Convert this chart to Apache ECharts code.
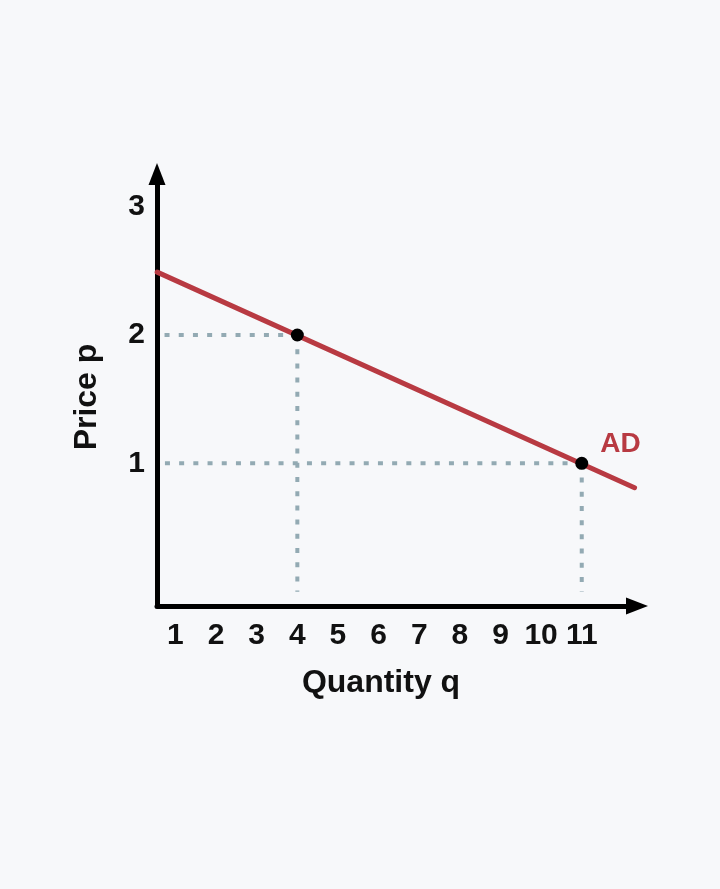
<!DOCTYPE html>
<html>
<head>
<meta charset="utf-8">
<style>
  html, body { margin: 0; padding: 0; background: #f7f8fa; }
  #chart { width: 720px; height: 889px; }
</style>
<script src="https://cdn.jsdelivr.net/npm/echarts@6/dist/echarts.min.js"></script>
</head>
<body>
<div id="chart"></div>
<script>
// ---- data ----
const xTicks = [1, 2, 3, 4, 5, 6, 7, 8, 9, 10, 11];
const yTicks = [1, 2, 3];
// AD demand curve end points (quantity, price)
const adQ = [0.55, 12.3];
const adP = [2.49, 0.81];
// marked points on AD
const pointQ = [4, 11];
const pointP = [2, 1];
const pointLabels = ['', 'AD'];
const guideQStart = 0.7;   // where the horizontal guides begin
const guidePBase = 0;      // where the vertical guides end

const FONT = "'Liberation Sans', Arial, Helvetica, sans-serif";
const RED = '#b83a42';
const GUIDE = '#93aab3';

const adData = adQ.map((q, i) => [q, adP[i]]);
const pointData = pointQ.map((q, i) => ({
  value: [q, pointP[i]],
  label: pointLabels[i] ? {
    show: true, formatter: pointLabels[i], position: 'right',
    distance: 12, offset: [0, -19],
    color: RED, fontSize: 28, fontWeight: 'bold', fontFamily: FONT
  } : { show: false }
}));

const guideSeries = [];
pointQ.forEach((q, i) => {
  const p = pointP[i];
  guideSeries.push({
    type: 'line', data: [[q, p], [guideQStart, p]], symbol: 'none', silent: true,
    lineStyle: { color: GUIDE, width: 4, type: [5, 9.2] }, z: 1, animation: false
  });
  guideSeries.push({
    type: 'line', data: [[q, p], [q, guidePBase]], symbol: 'none', silent: true,
    lineStyle: { color: GUIDE, width: 4, type: [5, 9.2] }, z: 1, animation: false
  });
});

const chart = echarts.init(document.getElementById('chart'), null, { renderer: 'canvas' });
chart.setOption({
  backgroundColor: '#f7f8fa',
  animation: false,
  grid: { left: 157, right: 83, top: 174, bottom: 283, containLabel: false },
  xAxis: {
    type: 'value', min: 0.546, max: 12.36,
    splitLine: { show: false },
    axisTick: { show: false },
    axisLine: {
      show: true, onZero: false, symbol: ['none', 'triangle'], symbolSize: [17, 22],
      lineStyle: { color: '#000', width: 5 }
    },
    axisLabel: {
      customValues: xTicks, margin: 15,
      color: '#111', fontSize: 30, fontWeight: 'bold', fontFamily: FONT
    },
    name: 'Quantity q', nameLocation: 'middle', nameGap: 61,
    nameTextStyle: { color: '#111', fontSize: 32, fontWeight: 'bold', fontFamily: FONT, padding: [0, 32, 0, 0] }
  },
  yAxis: {
    type: 'value', min: -0.112, max: 3.255,
    splitLine: { show: false },
    axisTick: { show: false },
    axisLine: {
      show: true, onZero: false, symbol: ['none', 'triangle'], symbolSize: [17, 22],
      lineStyle: { color: '#000', width: 5 }
    },
    axisLabel: {
      customValues: yTicks, margin: 12,
      color: '#111', fontSize: 30, fontWeight: 'bold', fontFamily: FONT
    },
    name: 'Price p', nameLocation: 'middle', nameGap: 54, nameRotate: 90,
    nameTextStyle: { color: '#111', fontSize: 32, fontWeight: 'bold', fontFamily: FONT, padding: [0, 14, 0, 0] }
  },
  series: guideSeries.concat([
    {
      type: 'line', data: adData, symbol: 'none', silent: true, z: 3,
      lineStyle: { color: RED, width: 5, cap: 'round' }
    },
    {
      type: 'scatter', data: pointData, symbol: 'circle', symbolSize: 13, z: 5,
      itemStyle: { color: '#000', opacity: 1 }
    }
  ])
});
</script>
</body>
</html>
